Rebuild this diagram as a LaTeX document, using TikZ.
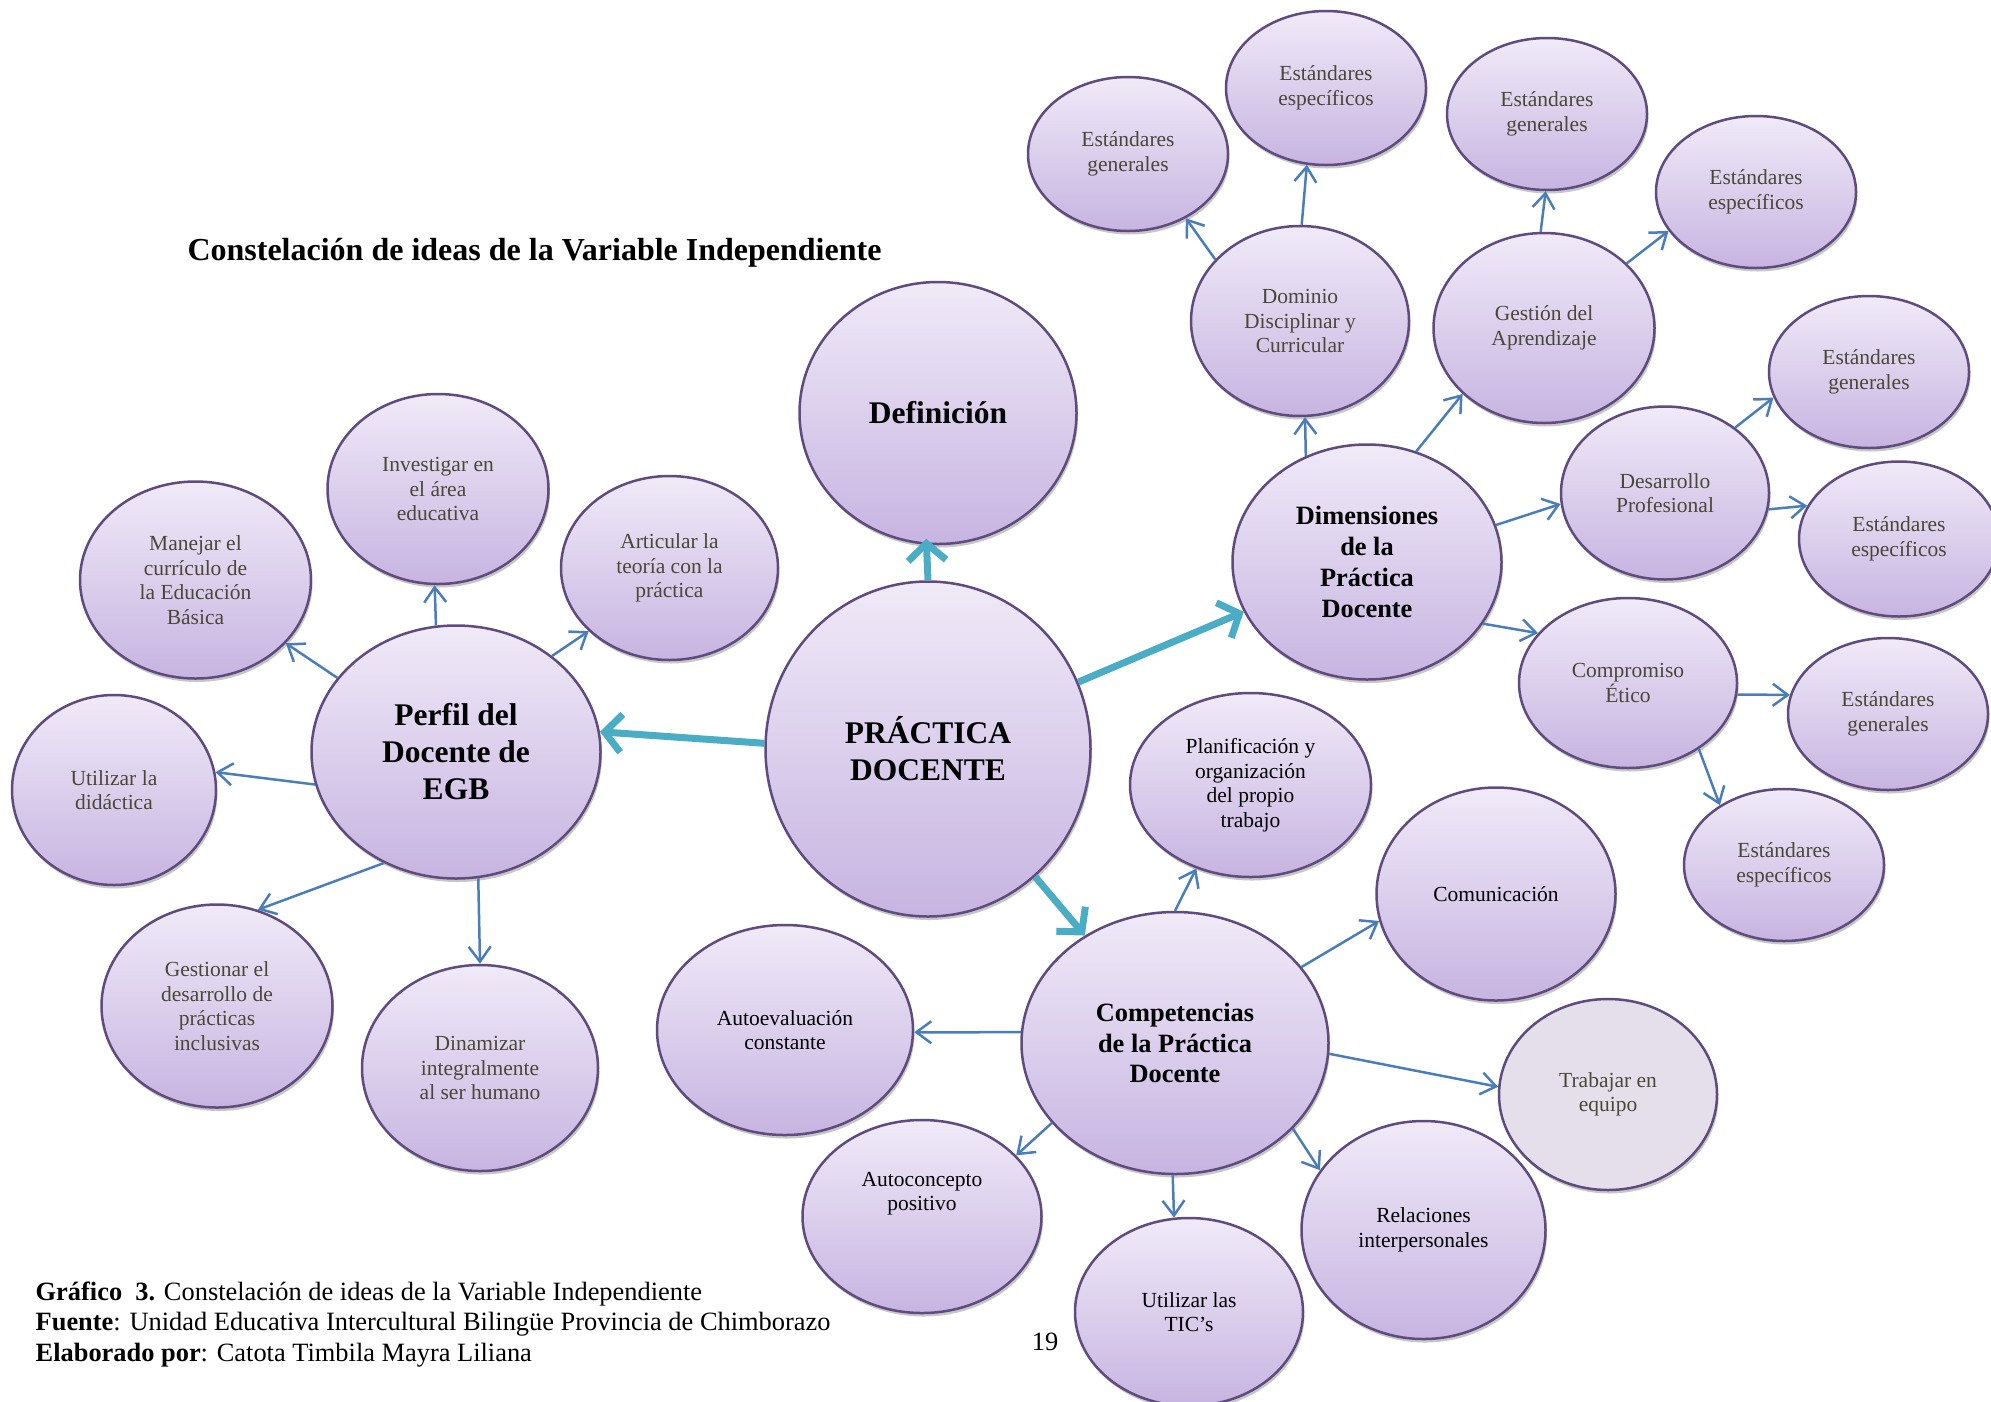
\documentclass[tikz,border=0pt]{standalone}
\usepackage{fontspec}
\setmainfont{Liberation Serif}
\usetikzlibrary{shapes.geometric,arrows.meta,shadows}
\definecolor{topc}{HTML}{F0EAF8}
\definecolor{botc}{HTML}{C7B4E1}
\definecolor{edgec}{HTML}{5F4B7E}
\definecolor{olivetxt}{HTML}{4B4737}
\definecolor{arrb}{HTML}{4A7EBB}
\definecolor{tealc}{HTML}{4BACC6}
\definecolor{flatc}{HTML}{E5DFEC}
\begin{document}
\begin{tikzpicture}[x=1pt,y=-1pt,
  bub/.style={ellipse, draw=edgec, line width=2.5pt, top color=topc, bottom color=botc,
    inner sep=0pt, align=center,
    drop shadow={shadow xshift=1.5pt, shadow yshift=-3.5pt, opacity=0.22, fill=black}},
  sz/.style 2 args={minimum width=#1, minimum height=#2},
  small/.style={bub, font=\fontsize{21.5}{24.5}\selectfont, text=olivetxt},
  smallk/.style={bub, font=\fontsize{21.5}{24.5}\selectfont, text=black},
  big/.style={bub, font=\fontsize{31.5}{37}\selectfont\bfseries, text=black},
  mid/.style={bub, font=\fontsize{26.4}{30.7}\selectfont\bfseries, text=black},
  flatbub/.style={small, top color=flatc, bottom color=flatc},
  blu/.style={draw=arrb, line width=2.5pt, -{Straight Barb[length=15pt,width=22pt]}},
  tea/.style={draw=tealc, line width=7pt, -{Straight Barb[length=17pt,width=38pt]}}
]
\useasboundingbox (0,0) rectangle (1991,1401);
\clip (0,0) rectangle (1991,1401);

% title and captions
\node[anchor=base, font=\fontsize{32}{36}\selectfont\bfseries] (title) at (534.5,260)
  {Constelación de ideas de la Variable Independiente};
\node[anchor=base west, align=left, inner sep=0pt, font=\fontsize{26.4}{30.5}\selectfont] (cap) at (35.5,1361)
  {\textbf{Gráfico\ \ 3.} Constelación de ideas de la Variable Independiente\\
   \textbf{Fuente}: Unidad Educativa Intercultural Bilingüe Provincia de Chimborazo\\
   \textbf{Elaborado por}: Catota Timbila Mayra Liliana};
\node[anchor=base, inner sep=0pt, font=\fontsize{26.4}{30.5}\selectfont] (pnum) at (1045,1350) {19};

% main nodes
\node[big, sz={277}{262}] (def) at (938,413) {Definición};
\node[big, sz={325}{335}] (prac) at (928,749) {PRÁCTICA\\DOCENTE};
\node[big, sz={289}{253}] (perfil) at (456,752) {Perfil del\\Docente de\\EGB};
\node[mid, sz={269}{235}] (dim) at (1367,562) {Dimensiones\\de la\\Práctica\\Docente};
\node[mid, sz={307}{262}] (comp) at (1175,1043) {Competencias\\de la Práctica\\Docente};

% perfil children
\node[small, sz={221}{190}] (invest) at (438,489) {Investigar en\\el área\\educativa};
\node[small, sz={231}{197}] (manejar) at (195.5,580) {Manejar el\\currículo de\\la Educación\\Básica};
\node[small, sz={217}{184}] (articular) at (669.5,568) {Articular la\\teoría con la\\práctica};
\node[small, sz={204}{190}] (didac) at (114,790) {Utilizar la\\didáctica};
\node[small, sz={231}{203}] (gestionar) at (217,1006) {Gestionar el\\desarrollo de\\prácticas\\inclusivas};
\node[small, sz={236}{206}] (dinam) at (480,1068) {Dinamizar\\integralmente\\al ser humano};

% dimensiones children
\node[small, sz={218}{190}] (dominio) at (1300,321) {Dominio\\Disciplinar y\\Curricular};
\node[small, sz={200}{154}] (eg1) at (1128,154) {Estándares\\generales};
\node[small, sz={200}{154}] (ee1) at (1326,88) {Estándares\\específicos};
\node[small, sz={221}{190}] (gestion) at (1544,328) {Gestión del\\Aprendizaje};
\node[small, sz={200}{152}] (eg2) at (1547,114) {Estándares\\generales};
\node[small, sz={200}{152}] (ee2) at (1756,192) {Estándares\\específicos};
\node[small, sz={208}{173}] (desarr) at (1665,493) {Desarrollo\\Profesional};
\node[small, sz={200}{152}] (eg3) at (1869,372) {Estándares\\generales};
\node[small, sz={200}{155}] (ee3) at (1899,539) {Estándares\\específicos};
\node[small, sz={218}{170}] (compr) at (1628,683) {Compromiso\\Ético};
\node[small, sz={200}{152}] (eg4) at (1888,714) {Estándares\\generales};
\node[small, sz={200}{152}] (ee4) at (1784,865) {Estándares\\específicos};

% competencias children
\node[smallk, sz={241}{184}] (planif) at (1250.5,785) {Planificación y\\organización\\del propio\\trabajo};
\node[smallk, sz={239}{213}] (comunic) at (1496,894) {Comunicación};
\node[flatbub, sz={218}{191}] (trabaj) at (1608,1094.5) {Trabajar en\\equipo};
\node[smallk, sz={244}{218}] (relac) at (1423.5,1230) {Relaciones\\interpersonales};
\node[smallk, sz={228}{188}] (tics) at (1189,1312) {Utilizar las\\TIC’s};
\node[smallk, sz={239}{193}, text depth=50pt] (autoc) at (922,1216.5) {Autoconcepto\\positivo};
\node[smallk, sz={256}{210}] (autoe) at (785,1030) {Autoevaluación\\constante};

% thick teal connectors
\draw[tea, shorten >=-6pt] (prac.90) -- (def.265);
\draw[tea] (prac.178.7) -- (perfil.8.6);
\draw[tea] (prac.24.4) -- (dim.202.8);
\draw[tea] (prac.310.8) -- (comp.130.4);

% blue connectors
\draw[blu] (perfil.99.6) -- (invest.268.5);
\draw[blu] (perfil.148.4) -- (manejar.325.7);
\draw[blu] (perfil.45.6) -- (articular.218);
\draw[blu] (perfil.193.7) -- (didac.10.6);
\draw[blu] (perfil.237.5) -- (gestionar.67.8);
\draw[blu] (perfil.280.1) -- (dinam.90.7);

\draw[blu] (dim.120.4) -- (dominio.273);
\draw[blu] (dim.66.2) -- (gestion.219.7);
\draw[blu] (dim.16.4) -- (desarr.186.8);
\draw[blu] (dim.332.1) -- (compr.151.9);
\draw[blu] (dominio.144.3) -- (eg1.312.8);
\draw[blu] (dominio.89.2) -- (ee1.256.8);
\draw[blu] (gestion.92.3) -- (eg2.269.1);
\draw[blu] (gestion.38.2) -- (ee2.204.6);
\draw[blu] (desarr.43) -- (eg3.195.5);
\draw[blu] (desarr.351) -- (ee3.160.9);
\draw[blu] (compr.354.8) -- (eg4.169.2);
\draw[blu] (compr.317.2) -- (ee4.137.3);

\draw[blu] (comp.90) -- (planif.237.8);
\draw[blu] (comp.31) -- (comunic.193.9);
\draw[blu] (comp.356.3) -- (trabaj.176.7);
\draw[blu] (comp.324.5) -- (relac.150);
\draw[blu] (comp.269.4) -- (tics.99.5);
\draw[blu] (comp.213.5) -- (autoc.33.8);
\draw[blu] (comp.176) -- (autoe.359);
\end{tikzpicture}
\end{document}
